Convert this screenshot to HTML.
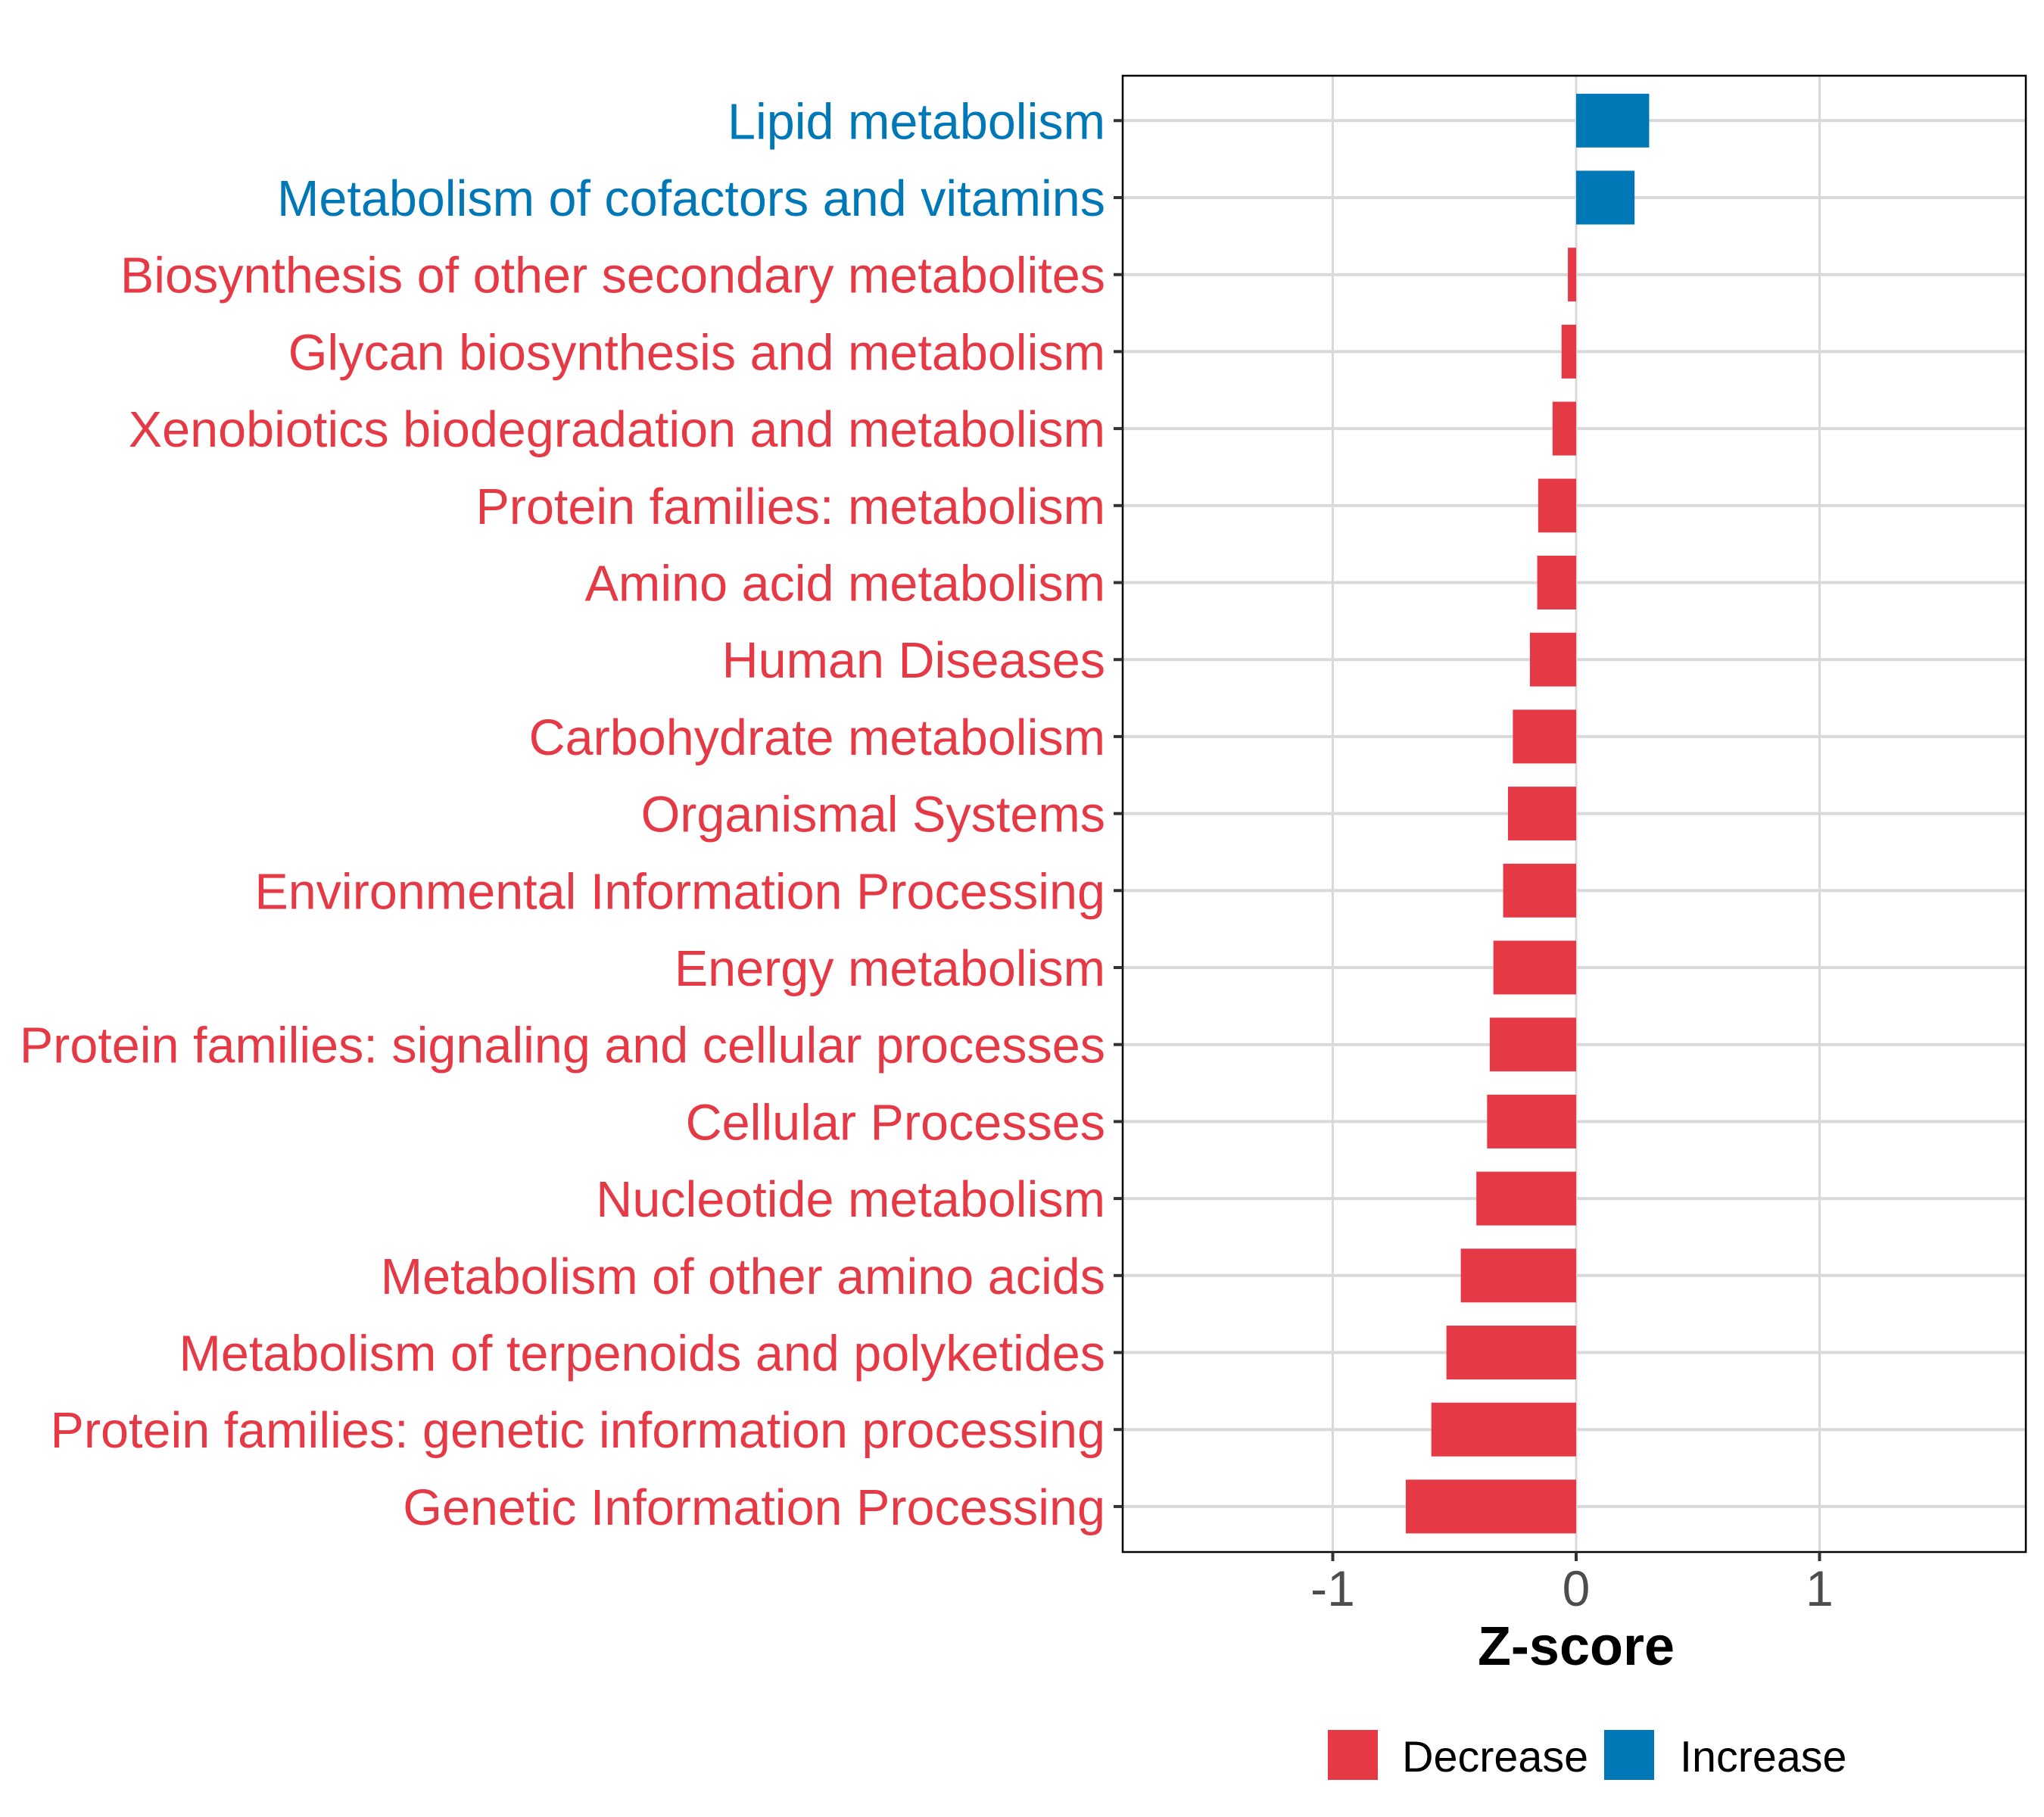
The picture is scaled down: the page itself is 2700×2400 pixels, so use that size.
<!DOCTYPE html>
<html><head><meta charset="utf-8"><style>
html,body{margin:0;padding:0;background:#fff;}
svg{display:block;font-family:"Liberation Sans",Arial,sans-serif;}
</style></head><body>
<svg id="chart" width="2700" height="2400" viewBox="0 0 2700 2400">
<g id="grid"></g>
<g id="bars"></g>
<rect x="1483" y="100" width="1193" height="1950" fill="none" stroke="#000" stroke-width="2.5"/>
<g id="yaxis"></g>
<g id="xaxis"></g>
<text x="2082" y="2199" font-size="72" font-weight="bold" text-anchor="middle" fill="#000">Z-score</text>
<g>
<g>
<rect x="1754" y="2285" width="66" height="66" fill="#e63946"/>
<text x="1852" y="2340" font-size="57.5" fill="#000">Decrease</text>
</g>
<g>
<rect x="2119" y="2285" width="66" height="66" fill="#0077b6"/>
<text x="2219" y="2340" font-size="57.5" fill="#000">Increase</text>
</g>
</g>
</svg>
<script>
const categories = ["Lipid metabolism","Metabolism of cofactors and vitamins","Biosynthesis of other secondary metabolites","Glycan biosynthesis and metabolism","Xenobiotics biodegradation and metabolism","Protein families: metabolism","Amino acid metabolism","Human Diseases","Carbohydrate metabolism","Organismal Systems","Environmental Information Processing","Energy metabolism","Protein families: signaling and cellular processes","Cellular Processes","Nucleotide metabolism","Metabolism of other amino acids","Metabolism of terpenoids and polyketides","Protein families: genetic information processing","Genetic Information Processing"];
const zscores = [0.30,0.24,-0.034,-0.06,-0.097,-0.156,-0.16,-0.19,-0.26,-0.28,-0.30,-0.34,-0.355,-0.366,-0.41,-0.474,-0.533,-0.595,-0.70];
const xTicks = [-1,0,1];
const xTickLabels = ["-1","0","1"];

const NS="http://www.w3.org/2000/svg";
const X0=2082, UNIT=321.5, ROW0=159.3, STEP=101.7, BARH=71;
function xs(v){return X0+v*UNIT;}
function ys(i){return ROW0+i*STEP;}
function mk(tag,attrs,parent){const e=document.createElementNS(NS,tag);for(const k in attrs)e.setAttribute(k,attrs[k]);parent.appendChild(e);return e;}
const grid=document.getElementById('grid'),bars=document.getElementById('bars'),ya=document.getElementById('yaxis'),xa=document.getElementById('xaxis');
xTicks.forEach((t,i)=>{
  const g=mk('line',{x1:xs(t),x2:xs(t),y1:100,y2:2050,stroke:'#d9d9d9','stroke-width':3},grid);
  
  
  const tk=mk('line',{x1:xs(t),x2:xs(t),y1:2050,y2:2062,stroke:'#333','stroke-width':4},xa);
  
  
  const tl=mk('text',{x:xs(t),y:2121,'font-size':66,'text-anchor':'middle',fill:'#4d4d4d'},xa);
  tl.textContent=xTickLabels[i];
  
  
});
categories.forEach((c,i)=>{
  const y=ys(i), v=zscores[i], col=v>=0?'#0077b6':'#e63946';
  const gl=mk('line',{x1:1483,x2:2676,y1:y,y2:y,stroke:'#d9d9d9','stroke-width':4},grid);
  
  
  const r=mk('rect',{x:Math.min(xs(v),X0),y:y-BARH/2,width:Math.abs(xs(v)-X0),height:BARH,fill:col},bars);
  
  
  const tk=mk('line',{x1:1471,x2:1483,y1:y,y2:y,stroke:'#333','stroke-width':4},ya);
  
  
  const tl=mk('text',{x:1460,y:y+24,'font-size':66.5,'text-anchor':'end',fill:col},ya);
  tl.textContent=c;
  
  
});
</script>
</body></html>
